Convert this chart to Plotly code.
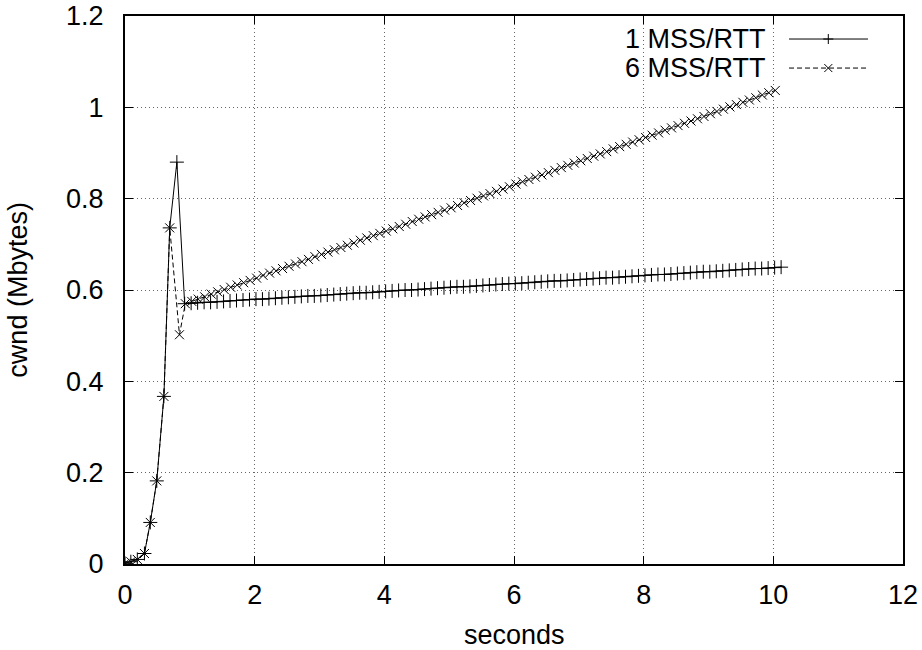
import plotly.graph_objects as go

# Shared slow-start phase (seconds, Mbytes)
t_slow = [0.0, 0.09, 0.19, 0.30, 0.39, 0.49, 0.60, 0.69]
cwnd_slow = [0.0015, 0.005, 0.010, 0.023, 0.091, 0.182, 0.367, 0.736]

# 1 MSS/RTT: overshoot, then congestion avoidance
t_1mss = [0.80,
          0.92, 1.02, 1.12, 1.22, 1.32, 1.42, 1.52, 1.62, 1.72, 1.82,
          1.92, 2.02, 2.12, 2.22, 2.32, 2.42, 2.52, 2.62, 2.72, 2.82,
          2.92, 3.02, 3.12, 3.22, 3.32, 3.42, 3.52, 3.62, 3.72, 3.82,
          3.92, 4.02, 4.12, 4.22, 4.32, 4.42, 4.52, 4.62, 4.72, 4.82,
          4.92, 5.02, 5.12, 5.22, 5.32, 5.42, 5.52, 5.62, 5.72, 5.82,
          5.92, 6.02, 6.12, 6.22, 6.32, 6.42, 6.52, 6.62, 6.72, 6.82,
          6.92, 7.02, 7.12, 7.22, 7.32, 7.42, 7.52, 7.62, 7.72, 7.82,
          7.92, 8.02, 8.12, 8.22, 8.32, 8.42, 8.52, 8.62, 8.72, 8.82,
          8.92, 9.02, 9.12, 9.22, 9.32, 9.42, 9.52, 9.62, 9.72, 9.82,
          9.92, 10.02, 10.12]
cwnd_1mss = [0.880,
             0.570, 0.571, 0.572, 0.573, 0.573, 0.574, 0.575, 0.576, 0.577, 0.578,
             0.579, 0.580, 0.580, 0.581, 0.582, 0.583, 0.584, 0.585, 0.586, 0.587,
             0.587, 0.588, 0.589, 0.590, 0.591, 0.592, 0.593, 0.594, 0.594, 0.595,
             0.596, 0.597, 0.598, 0.599, 0.600, 0.600, 0.601, 0.602, 0.603, 0.604,
             0.605, 0.606, 0.607, 0.607, 0.608, 0.609, 0.610, 0.611, 0.612, 0.613,
             0.614, 0.614, 0.615, 0.616, 0.617, 0.618, 0.619, 0.620, 0.620, 0.621,
             0.622, 0.623, 0.624, 0.625, 0.626, 0.627, 0.627, 0.628, 0.629, 0.630,
             0.631, 0.632, 0.633, 0.634, 0.634, 0.635, 0.636, 0.637, 0.638, 0.639,
             0.640, 0.640, 0.641, 0.642, 0.643, 0.644, 0.645, 0.646, 0.647, 0.647,
             0.648, 0.649, 0.650]

# 6 MSS/RTT: early drop, then faster congestion avoidance
t_6mss = [0.84,
          0.93, 1.03, 1.13, 1.23, 1.33, 1.43, 1.53, 1.63, 1.73, 1.83,
          1.93, 2.03, 2.13, 2.23, 2.33, 2.43, 2.53, 2.63, 2.73, 2.83,
          2.93, 3.03, 3.13, 3.23, 3.33, 3.43, 3.53, 3.63, 3.73, 3.83,
          3.93, 4.03, 4.13, 4.23, 4.33, 4.43, 4.53, 4.63, 4.73, 4.83,
          4.93, 5.03, 5.13, 5.23, 5.33, 5.43, 5.53, 5.63, 5.73, 5.83,
          5.93, 6.03, 6.13, 6.23, 6.33, 6.43, 6.53, 6.63, 6.73, 6.83,
          6.93, 7.03, 7.13, 7.23, 7.33, 7.43, 7.53, 7.63, 7.73, 7.83,
          7.93, 8.03, 8.13, 8.23, 8.33, 8.43, 8.53, 8.63, 8.73, 8.83,
          8.93, 9.03, 9.13, 9.23, 9.33, 9.43, 9.53, 9.63, 9.73, 9.83,
          9.93, 10.03]
cwnd_6mss = [0.502,
             0.570, 0.575, 0.580, 0.585, 0.591, 0.596, 0.601, 0.606, 0.611, 0.616,
             0.621, 0.626, 0.632, 0.637, 0.642, 0.647, 0.652, 0.657, 0.662, 0.667,
             0.673, 0.678, 0.683, 0.688, 0.693, 0.698, 0.703, 0.709, 0.714, 0.719,
             0.724, 0.729, 0.734, 0.739, 0.744, 0.750, 0.755, 0.760, 0.765, 0.770,
             0.775, 0.780, 0.785, 0.791, 0.796, 0.801, 0.806, 0.811, 0.816, 0.821,
             0.826, 0.832, 0.837, 0.842, 0.847, 0.852, 0.857, 0.862, 0.868, 0.873,
             0.878, 0.883, 0.888, 0.893, 0.898, 0.903, 0.909, 0.914, 0.919, 0.924,
             0.929, 0.934, 0.939, 0.944, 0.950, 0.955, 0.960, 0.965, 0.970, 0.975,
             0.980, 0.986, 0.991, 0.996, 1.001, 1.006, 1.011, 1.016, 1.021, 1.027,
             1.032, 1.037]

series_names = ["1 MSS/RTT", "6 MSS/RTT"]
x_ticks = [0, 2, 4, 6, 8, 10, 12]
y_ticks = [0, 0.2, 0.4, 0.6, 0.8, 1, 1.2]

FONT = "Liberation Sans, Arial, Helvetica, sans-serif"
FS = 27

fig = go.Figure()

fig.add_trace(go.Scatter(
    x=t_slow + t_1mss, y=cwnd_slow + cwnd_1mss, mode="lines+markers",
    name=series_names[0],
    line=dict(color="black", width=1),
    marker=dict(symbol="cross-thin", size=10, color="black",
                line=dict(color="black", width=1)),
    showlegend=False,
))
fig.add_trace(go.Scatter(
    x=t_slow + t_6mss, y=cwnd_slow + cwnd_6mss, mode="lines+markers",
    name=series_names[1],
    line=dict(color="black", width=1, dash="5px,3px"),
    marker=dict(symbol="x-thin", size=9, color="black",
                line=dict(color="black", width=1)),
    showlegend=False,
))

axis_common = dict(
    showline=True, linecolor="black", linewidth=2, mirror="allticks",
    ticks="inside", ticklen=8, tickwidth=1, tickcolor="black",
    showgrid=True, gridcolor="#666666", gridwidth=1, griddash="1px,3px",
    zeroline=False, automargin=False,
    tickfont=dict(family=FONT, size=FS, color="black"),
)

fig.update_xaxes(range=[0, 12], tickvals=x_ticks,
                 ticktext=[str(v) for v in x_ticks],
                 ticklabelstandoff=6, **axis_common)
fig.update_yaxes(range=[0, 1.2], tickvals=y_ticks,
                 ticktext=[f"{v:g}" for v in y_ticks],
                 ticklabelstandoff=14, **axis_common)

# Axis titles
annotations = [
    dict(text="seconds", xref="paper", yref="paper", x=0.5, y=-0.13,
         xanchor="center", yanchor="middle", showarrow=False,
         font=dict(family=FONT, size=FS, color="black")),
    dict(text="cwnd (Mbytes)", xref="paper", yref="paper", x=-0.138, y=0.5,
         xanchor="center", yanchor="middle", textangle=-90, showarrow=False,
         font=dict(family=FONT, size=FS, color="black")),
]

# Key in the upper right: label, then line sample with its marker
key_rows = [0.958, 0.905]
key_dash = ["solid", "5px,3px"]
shapes = []
for i, name in enumerate(series_names):
    yk = key_rows[i]
    annotations.append(dict(text=name, xref="paper", yref="paper", x=0.826, y=yk,
                            xanchor="right", yanchor="middle", showarrow=False,
                            font=dict(family=FONT, size=FS, color="black")))
    shapes.append(dict(type="line", xref="paper", yref="paper",
                       x0=0.8535, x1=0.955, y0=yk, y1=yk,
                       line=dict(color="black", width=1, dash=key_dash[i])))
    if i == 0:
        segs = [(0, -5, 0, 5), (-5, 0, 5, 0)]
    else:
        segs = [(-4, -4, 4, 4), (-4, 4, 4, -4)]
    for (a, b, c, d) in segs:
        shapes.append(dict(type="line", xref="paper", yref="paper",
                           xsizemode="pixel", ysizemode="pixel",
                           xanchor=0.904, yanchor=yk,
                           x0=a, y0=b, x1=c, y1=d,
                           line=dict(color="black", width=1)))

fig.update_layout(
    width=922, height=650,
    margin=dict(l=125, r=19, t=16, b=86),
    paper_bgcolor="white", plot_bgcolor="white",
    font=dict(family=FONT, size=FS, color="black"),
    annotations=annotations, shapes=shapes,
)

fig.write_html("out.html")
